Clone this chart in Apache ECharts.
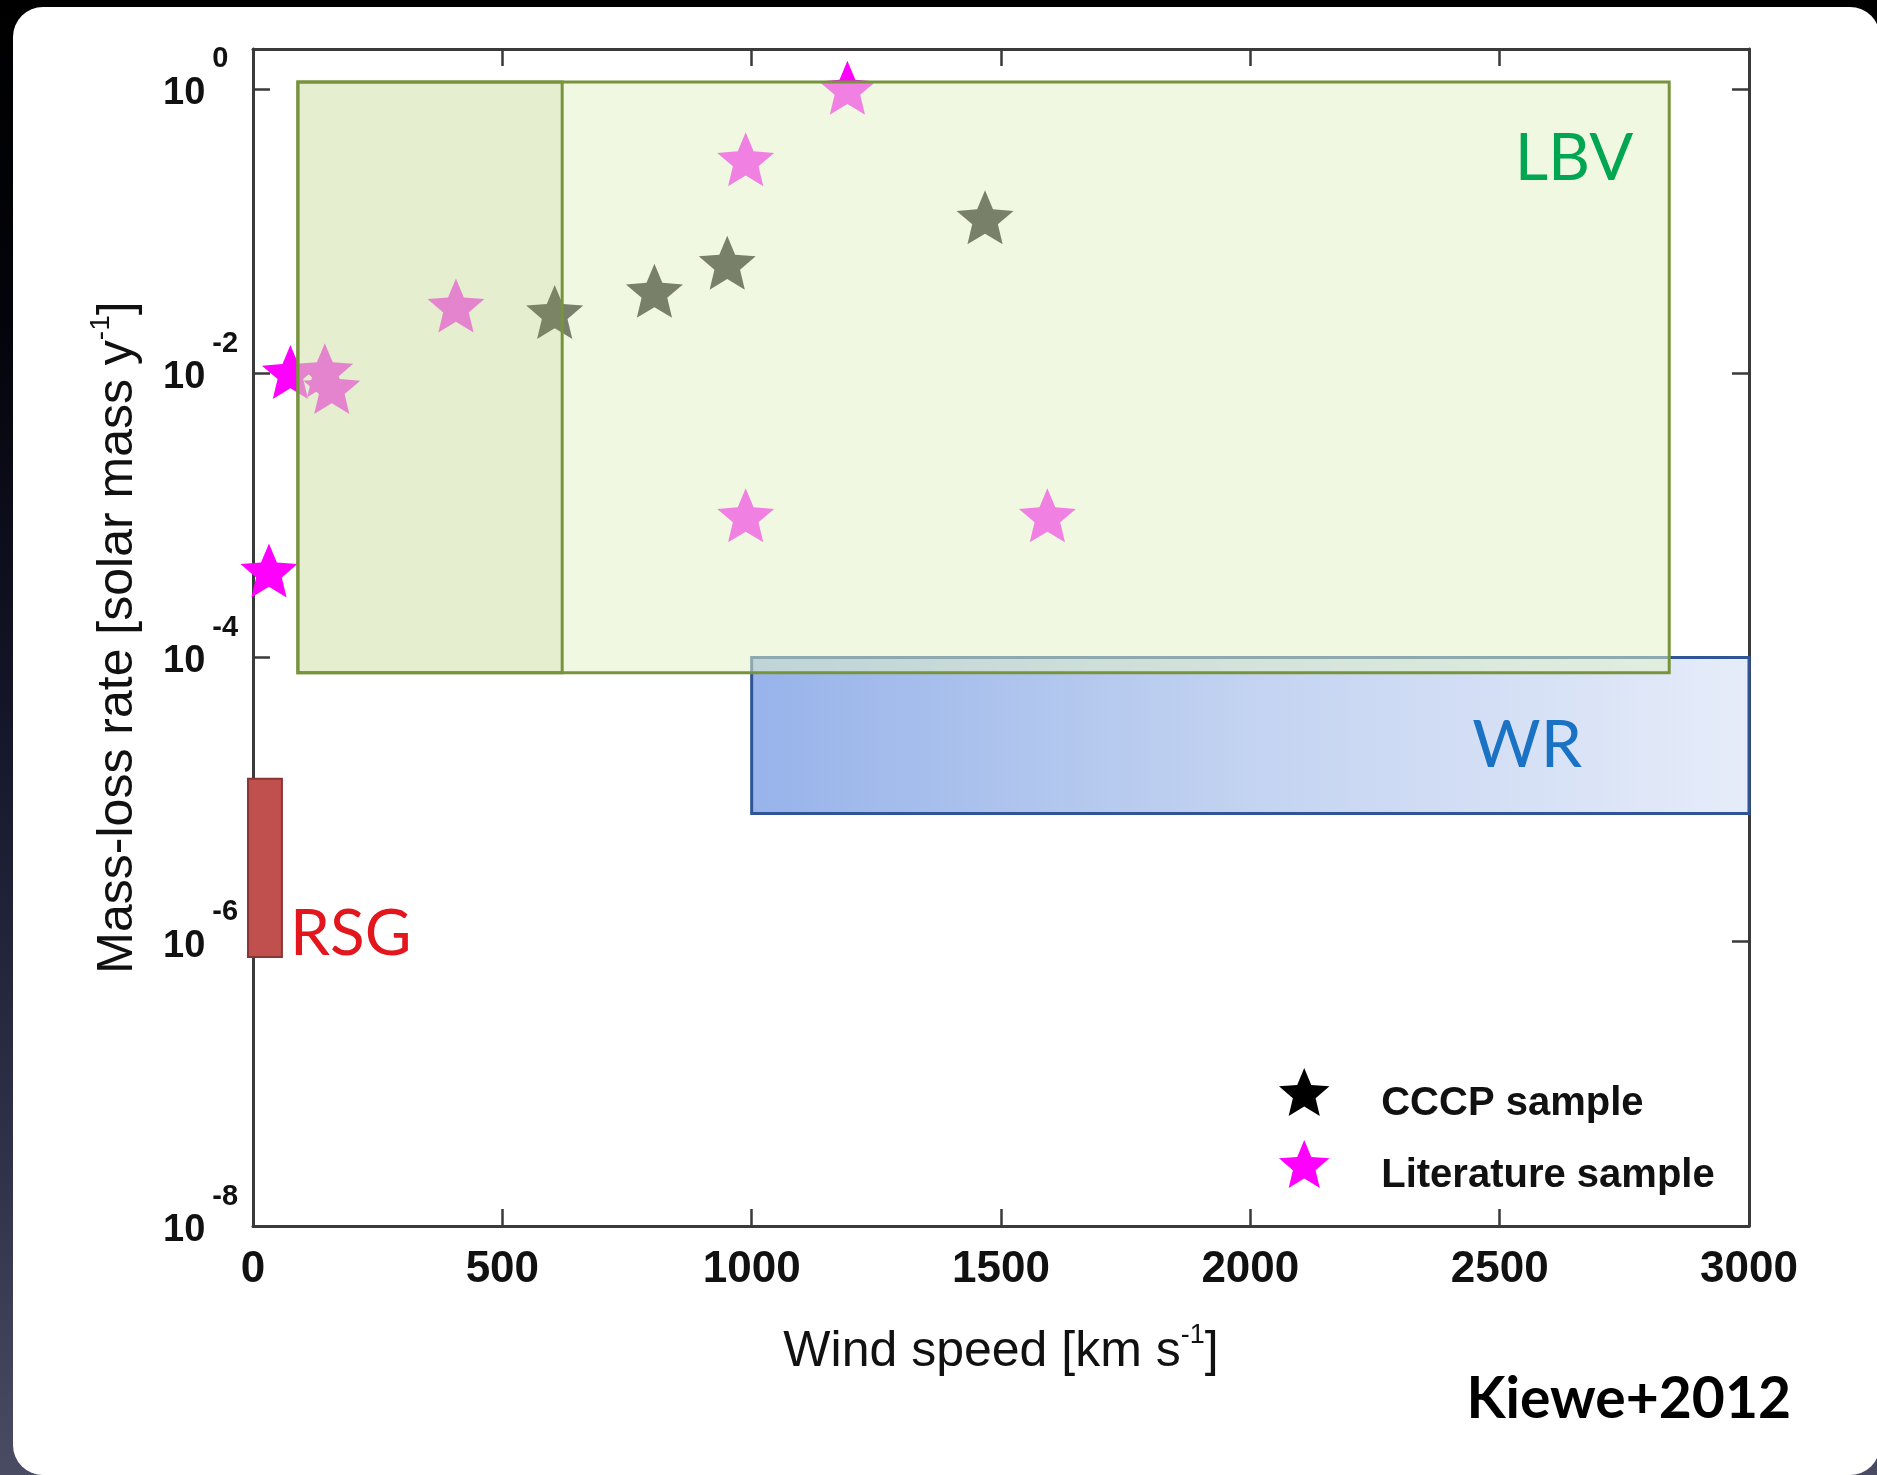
<!DOCTYPE html>
<html><head><meta charset="utf-8">
<script src="https://cdn.jsdelivr.net/npm/echarts@6/dist/echarts.min.js"></script>
<style>
html,body{margin:0;padding:0;width:1877px;height:1475px;overflow:hidden;
background:linear-gradient(180deg,#000 0%,#03040b 22%,#15172a 50%,#31334b 80%,#4a4c64 100%);}
#panel{position:absolute;left:13px;top:7px;width:1867px;height:1468px;background:#fff;border-radius:30px;}
#chart{position:absolute;left:0;top:0;width:1877px;height:1475px;}
</style></head><body><div id="panel"></div><div id="chart"></div>
<script>
// ---- data ----
const cccpSpeed = [605, 805, 951, 1468];
const cccpRate  = [0.027, 0.038, 0.060, 0.125];

const litSpeed = [1192, 988, 407, 75, 144, 158, 988, 1593, 32];
const litRate  = [1.02, 0.32, 0.030, 0.0102, 0.0105, 0.0080, 0.0010, 0.0010, 0.00041];

const regionNames    = ['WR', 'RSG', 'LBV', 'LBV-inner'];
const regionSpeedMin = [1000, -10, 90, 90];
const regionSpeedMax = [3000, 58, 2840, 620];
const regionRateMin  = [8e-6, 7.8e-7, 7.8e-5, 7.8e-5];
const regionRateMax  = [1e-4, 1.4e-5, 1.12, 1.12];

const xTicks = [0, 500, 1000, 1500, 2000, 2500, 3000];
const yExponents = [-8, -6, -4, -2, 0];
const yTopExponent = 0.2814;

// ---- styling ----
const AX = '#3a3a3a';
const FONT = 'Liberation Sans, Arial, sans-serif';
const starPath = 'path://M50,0 L63.23,31.8 L97.55,34.55 L71.4,56.95 L79.39,90.45 L50,72.5 L20.61,90.45 L28.6,56.95 L2.45,34.55 L36.77,31.8 Z';

const regionStyle = {
  'WR': {z: 1, fill: new echarts.graphic.LinearGradient(0, 0, 1, 0, [
            {offset: 0, color: '#97b3ea'}, {offset: 0.5, color: '#c3d3f1'}, {offset: 1, color: '#e6ecf9'}]),
         stroke: '#2f5596', lineWidth: 3,
         label: {text: 'WR', color: '#1a72c4', size: 66, ref: 'rt', dx: -167, dy: 88, align: 'right'}},
  'RSG': {z: 1, fill: '#c0504d', stroke: '#8b3532', lineWidth: 2,
         label: {text: 'RSG', color: '#e3151d', size: 64, ref: 'rb', dx: 8, dy: -23, align: 'left'}},
  'LBV': {z: 3, fill: 'rgba(226,241,198,0.53)', stroke: '#77933c', lineWidth: 3,
         label: {text: 'LBV', color: '#00a651', size: 65, ref: 'rt', dx: -36, dy: 77, align: 'right'}},
  'LBV-inner': {z: 4, fill: 'rgba(147,164,75,0.12)', stroke: '#77933c', lineWidth: 3, label: null}
};

function regionSeries(name, i) {
  const st = regionStyle[name];
  return {
    type: 'custom', name: name, z: st.z, silent: true, clip: false,
    xAxisIndex: 0, yAxisIndex: 0,
    encode: {x: [0, 1], y: [2, 3]},
    data: [[regionSpeedMin[i], regionSpeedMax[i], regionRateMin[i], regionRateMax[i]]],
    renderItem: function (params, api) {
      const tl = api.coord([api.value(0), api.value(3)]);
      const br = api.coord([api.value(1), api.value(2)]);
      const children = [{
        type: 'rect',
        shape: {x: tl[0], y: tl[1], width: br[0] - tl[0], height: br[1] - tl[1]},
        style: {fill: st.fill, stroke: st.stroke, lineWidth: st.lineWidth}
      }];
      if (st.label) {
        const L = st.label;
        const bx = br[0];
        const by = L.ref === 'rt' ? tl[1] : br[1];
        children.push({
          type: 'text', z2: 10,
          style: {text: L.text, x: bx + L.dx, y: by + L.dy, fill: L.color,
                  fontSize: L.size, fontFamily: 'Lato, sans-serif', fontWeight: 'normal',
                  align: L.align, verticalAlign: 'middle'}
        });
      }
      return {type: 'group', children: children};
    }
  };
}

function axisCommon() {
  return {
    axisLine: {show: true, onZero: false, lineStyle: {color: AX, width: 3}},
    axisTick: {show: true, inside: true, length: 17, lineStyle: {color: AX, width: 2.5}},
    splitLine: {show: false}
  };
}

const chart = echarts.init(document.getElementById('chart'), null, {renderer: 'canvas'});
chart.setOption({
  animation: false,
  backgroundColor: 'transparent',
  grid: {left: 253, right: 128, top: 49, bottom: 249, containLabel: false},
  xAxis: [
    Object.assign(axisCommon(), {
      type: 'value', position: 'bottom',
      min: xTicks[0], max: xTicks[xTicks.length - 1], interval: xTicks[1] - xTicks[0],
      axisLabel: {show: true, fontSize: 44, fontWeight: 'bold', fontFamily: FONT, color: '#111', margin: 22,
                  formatter: function (v) { return String(v); }},
      name: 'Wind speed [km s{s|-1}]', nameLocation: 'middle', nameGap: 96,
      nameTextStyle: {fontSize: 50, fontFamily: FONT, color: '#111', lineHeight: 60,
        rich: {s: {fontSize: 27, fontFamily: FONT, color: '#111', lineHeight: 27, verticalAlign: 'top'}}}
    }),
    Object.assign(axisCommon(), {
      type: 'value', position: 'top',
      min: xTicks[0], max: xTicks[xTicks.length - 1], interval: xTicks[1] - xTicks[0],
      axisLabel: {show: false}
    })
  ],
  yAxis: [
    {type: 'log', logBase: 10, min: Math.pow(10, yExponents[0]), max: Math.pow(10, yTopExponent), show: false},
    Object.assign(axisCommon(), {
      type: 'value', position: 'left',
      min: yExponents[0], max: yTopExponent, interval: yExponents[1] - yExponents[0],
      axisLabel: {
        show: true, align: 'left', margin: 90, padding: [9, 0, 0, 0],
        formatter: function (v) {
          return yExponents.indexOf(v) >= 0 ? '{b|10}{s|' + v + '}' : '';
        },
        rich: {
          b: {fontSize: 38, fontWeight: 'bold', fontFamily: FONT, color: '#111', lineHeight: 97},
          s: {fontSize: 29, fontWeight: 'bold', fontFamily: FONT, color: '#111', lineHeight: 29,
              verticalAlign: 'top', padding: [0, 0, 0, 7]}
        }
      },
      name: 'Mass-loss rate [solar mass y{s|-1}]', nameLocation: 'middle', nameGap: 104, nameRotate: 90,
      nameTextStyle: {fontSize: 50, fontFamily: FONT, color: '#111', lineHeight: 62,
        rich: {s: {fontSize: 28, fontFamily: FONT, color: '#111', lineHeight: 28, verticalAlign: 'top'}}}
    }),
    Object.assign(axisCommon(), {
      type: 'value', position: 'right',
      min: yExponents[0], max: yTopExponent, interval: yExponents[1] - yExponents[0],
      axisLabel: {show: false}
    })
  ],
  legend: {
    data: ['CCCP sample', 'Literature sample'],
    orient: 'vertical', left: 1274, top: 1055,
    itemWidth: 52, itemHeight: 48, itemGap: 8, selectedMode: false,
    formatter: function (name) { return '\n' + name; },
    textStyle: {fontSize: 40, fontWeight: 'bold', fontFamily: FONT, color: '#111',
                lineHeight: 24, padding: [0, 0, 0, 46]}
  },
  graphic: [{
    type: 'text', z: 100,
    style: {text: 'Kiewe+2012', x: 1791, y: 1400, align: 'right', verticalAlign: 'middle',
            fontSize: 57, fontWeight: 'bold', fontFamily: 'Lato, sans-serif', fill: '#000'}
  }],
  series: [
    regionSeries('WR', 0),
    regionSeries('RSG', 1),
    {
      type: 'scatter', name: 'CCCP sample', z: 2, clip: false,
      xAxisIndex: 0, yAxisIndex: 0,
      symbol: starPath, symbolSize: [57, 54],
      itemStyle: {color: '#000', opacity: 1},
      emphasis: {disabled: true},
      data: cccpSpeed.map(function (s, i) { return [s, cccpRate[i]]; })
    },
    {
      type: 'scatter', name: 'Literature sample', z: 2, clip: false,
      xAxisIndex: 0, yAxisIndex: 0,
      symbol: starPath, symbolSize: [57, 54],
      itemStyle: {color: '#ff00ff', opacity: 1},
      emphasis: {disabled: true},
      data: litSpeed.map(function (s, i) { return [s, litRate[i]]; })
    },
    regionSeries('LBV', 2),
    regionSeries('LBV-inner', 3)
  ]
});
</script></body></html>
